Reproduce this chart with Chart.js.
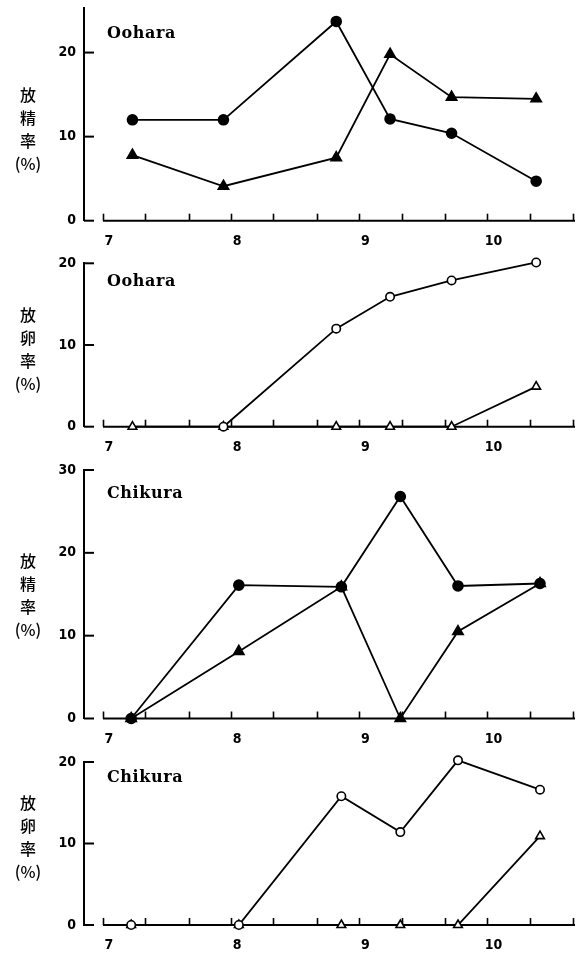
<!DOCTYPE html>
<html>
<head>
<meta charset="utf-8">
<script src="https://cdn.jsdelivr.net/npm/chart.js@4.4.1/dist/chart.umd.min.js"></script>
<style>
  html, body { margin: 0; padding: 0; background: #fff; }
  #wrap { position: relative; width: 588px; height: 954px; }
  .panel { position: absolute; left: 0; width: 588px; }
</style>
</head>
<body>
<div id="wrap">
  <div class="panel" style="top:0;height:252px"><canvas id="c1"></canvas></div>
  <div class="panel" style="top:252px;height:205px"><canvas id="c2"></canvas></div>
  <div class="panel" style="top:457px;height:295px"><canvas id="c3"></canvas></div>
  <div class="panel" style="top:752px;height:202px"><canvas id="c4"></canvas></div>
</div>
<script>
// sampling dates, as month + fraction of month
const datesOohara = [7.23, 7.94, 8.82, 9.24, 9.72, 10.38];
const datesChikura = [7.22, 8.06, 8.86, 9.32, 9.77, 10.41];

// Oohara, 放精率 (filled circle / filled triangle)
const oohSpermCircle = [12, 12, 23.7, 12.1, 10.4, 4.7];
const oohSpermTriangle = [7.8, 4.1, 7.5, 19.8, 14.7, 14.5];
// Oohara, 放卵率 (open circle / open triangle)
const oohEggCircle = [null, 0, 12, 15.9, 17.9, 20.1];
const oohEggTriangle = [0, 0, 0, 0, 0, 4.9];
// Chikura, 放精率
const chiSpermCircle = [0, 16.1, 15.9, 26.8, 16.0, 16.3];
const chiSpermTriangle = [0, 8.1, 15.9, 0, 10.5, 16.3];
// Chikura, 放卵率
const chiEggCircle = [0, 0, 15.8, 11.4, 20.2, 16.6];
const chiEggTriangle = [0, 0, 0, 0, 0, 10.9];

// axis ticks
const xTicks = [7, 7.33, 7.67, 8, 8.33, 8.67, 9, 9.33, 9.67, 10, 10.33, 10.67];
const xLabels = { 7: '7', 8: '8', 9: '9', 10: '10' };
const yTicks = [0, 10, 20, 30];

const tickFont = { family: "'Liberation Sans Narrow', 'DejaVu Sans Condensed', sans-serif", size: 14, weight: 'bold' };

// axis decoration: inward ticks, x baseline starting at month 7, texts
const decoPlugin = {
  id: 'deco',
  beforeDatasetsDraw(chart, args, o) {
    const ctx = chart.ctx, a = chart.chartArea;
    const xs = chart.scales.x, ys = chart.scales.y;
    ctx.save();
    ctx.strokeStyle = '#000';
    ctx.lineWidth = 2;
    ctx.beginPath();
    ctx.moveTo(xs.getPixelForValue(xTicks[0]), a.bottom);
    ctx.lineTo(a.right, a.bottom);
    ctx.stroke();
    ctx.lineWidth = 1.6;
    xTicks.forEach(v => {
      const px = Math.round(xs.getPixelForValue(v)) + 0.5;
      ctx.beginPath();
      ctx.moveTo(px, a.bottom);
      ctx.lineTo(px, a.bottom - 7);
      ctx.stroke();
    });
    ctx.lineWidth = 2;
    ys.ticks.forEach(t => {
      const py = ys.getPixelForValue(t.value);
      ctx.beginPath();
      ctx.moveTo(a.left, py);
      ctx.lineTo(a.left + 10, py);
      ctx.stroke();
    });
    ctx.restore();
  },
  afterDraw(chart, args, o) {
    const ctx = chart.ctx;
    ctx.save();
    ctx.fillStyle = '#000';
    ctx.font = "bold 16px 'DejaVu Serif', serif";
    ctx.letterSpacing = '0.6px';
    ctx.textBaseline = 'middle';
    ctx.textAlign = 'left';
    ctx.fillText(o.site, 107, o.siteY);
    ctx.letterSpacing = '0px';
    ctx.font = "500 16px 'Noto Sans CJK JP', sans-serif";
    ctx.textAlign = 'center';
    o.label.forEach((s, i) => ctx.fillText(s, 28, o.labelY + i * 23));
    ctx.restore();
  }
};

function pts(xs, ys) {
  return xs.map((x, i) => ({ x: x, y: ys[i] }));
}

function makePanel(id, p) {
  const canvas = document.getElementById(id);
  const H = canvas.parentNode.clientHeight;
  const common = {
    borderColor: '#000',
    borderWidth: 1.8,
    pointBorderColor: '#000',
    pointBorderWidth: 1.6,
    tension: 0,
    clip: false,
    fill: false
  };
  new Chart(canvas, {
    type: 'line',
    data: {
      datasets: [
        Object.assign({}, common, {
          data: pts(p.dates, p.circle),
          pointStyle: 'circle',
          pointRadius: p.open ? 4.2 : 5,
          pointBackgroundColor: p.open ? '#fff' : '#000'
        }),
        Object.assign({}, common, {
          data: pts(p.dates, p.triangle),
          pointStyle: 'triangle',
          pointRadius: p.open ? 5 : 6,
          pointBackgroundColor: p.open ? '#fff' : '#000'
        })
      ]
    },
    plugins: [decoPlugin],
    options: {
      animation: false,
      responsive: true,
      maintainAspectRatio: false,
      devicePixelRatio: 1,
      layout: { padding: { top: p.top, right: 13, left: 0, bottom: 0 } },
      plugins: {
        legend: { display: false },
        tooltip: { enabled: false },
        deco: { site: p.site, siteY: p.siteY, label: p.label, labelY: p.labelY }
      },
      scales: {
        x: {
          type: 'linear',
          min: 6.852,
          max: 10.683,
          grid: { display: false, drawTicks: false },
          border: { display: false },
          afterBuildTicks: s => { s.ticks = xTicks.map(v => ({ value: v })); },
          afterFit: s => {
            s.height = H - p.bottom;
            s.paddingLeft = 0;
            s.paddingRight = 0;
          },
          ticks: {
            autoSkip: false,
            maxRotation: 0,
            padding: 12,
            labelOffset: 6,
            color: '#000',
            font: tickFont,
            callback: v => xLabels[v] || ''
          }
        },
        y: {
          min: 0,
          max: p.max,
          grid: { display: false, drawTicks: false },
          border: { display: true, color: '#000', width: 2 },
          afterBuildTicks: s => { s.ticks = yTicks.filter(v => v <= p.max).map(v => ({ value: v })); },
          afterFit: s => {
            s.width = 84;
            s.paddingTop = 0;
            s.paddingBottom = 0;
          },
          ticks: {
            padding: 8,
            color: '#000',
            font: tickFont
          }
        }
      }
    }
  });
}

makePanel('c1', {
  dates: datesOohara, circle: oohSpermCircle, triangle: oohSpermTriangle, open: false,
  max: 25.3, top: 8, bottom: 220.7,
  site: 'Oohara', siteY: 34, label: ['放', '精', '率', '(%)'], labelY: 95
});
makePanel('c2', {
  dates: datesOohara, circle: oohEggCircle, triangle: oohEggTriangle, open: true,
  max: 20, top: 11.3, bottom: 174.7,
  site: 'Oohara', siteY: 30, label: ['放', '卵', '率', '(%)'], labelY: 63
});
makePanel('c3', {
  dates: datesChikura, circle: chiSpermCircle, triangle: chiSpermTriangle, open: false,
  max: 30, top: 13, bottom: 261.5,
  site: 'Chikura', siteY: 37, label: ['放', '精', '率', '(%)'], labelY: 104
});
makePanel('c4', {
  dates: datesChikura, circle: chiEggCircle, triangle: chiEggTriangle, open: true,
  max: 20, top: 10, bottom: 173,
  site: 'Chikura', siteY: 26, label: ['放', '卵', '率', '(%)'], labelY: 51
});
</script>
</body>
</html>
